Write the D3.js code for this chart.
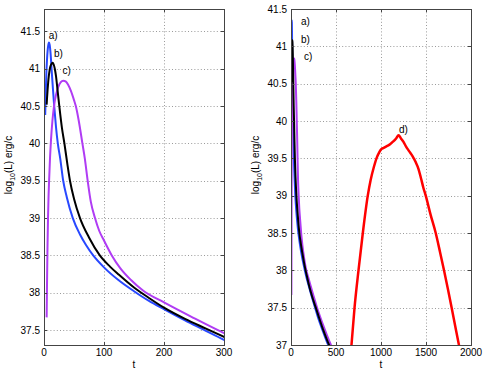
<!DOCTYPE html>
<meta charset="utf-8">
<style>
  body, html {
    margin: 0;
    padding: 0;
    background: #fff;
  }
  text {
    font: 10px "Liberation Sans", Arial, Helvetica, sans-serif;
    fill: #000;
  }
</style>
<body>
<svg id="chart" width="485" height="373"></svg>
<script src="https://d3js.org/d3.v7.min.js"></script>
<script>

// curve a) blue
var tA = [2, 3, 4, 5, 6, 7, 8.3, 9.5, 11, 13, 15, 17, 20, 23, 27, 32, 38, 48, 60, 70, 82, 100, 124, 150, 175, 200, 235, 265, 300, 350, 400, 430];
var vA = [40.38, 40.7, 40.95, 41.12, 41.24, 41.31, 41.35, 41.32, 41.2, 40.95, 40.72, 40.5, 40.22, 40.0, 39.8, 39.5, 39.28, 39.0, 38.78, 38.64, 38.5, 38.34, 38.17, 38.02, 37.89, 37.78, 37.63, 37.51, 37.37, 37.2, 37.04, 36.95];

// curve b) black
var tB = [4.4, 5, 6, 7, 8, 9, 10, 11.5, 13, 14.4, 16, 18, 20, 22.5, 25.5, 30, 34, 39, 43.3, 50, 60, 75, 93, 110, 125, 150, 175, 200, 235, 270, 300, 350, 400, 445];
var vB = [40.52, 40.6, 40.72, 40.82, 40.9, 40.96, 41.01, 41.05, 41.07, 41.08, 41.06, 41.0, 40.9, 40.72, 40.5, 40.2, 40.0, 39.72, 39.5, 39.26, 39.0, 38.74, 38.5, 38.35, 38.24, 38.07, 37.93, 37.8, 37.65, 37.52, 37.41, 37.23, 37.07, 36.94];

// curve c) purple
var tC = [4.4, 5, 5.8, 6.7, 7.6, 8.5, 10, 11.7, 14, 16.7, 20, 24, 28, 32, 36, 40, 45, 50, 53, 58, 64, 68, 72.8, 78, 85, 92, 100, 113, 127, 145, 165, 200, 250, 300, 350, 400, 465];
var vC = [37.67, 38.1, 38.6, 39.0, 39.3, 39.5, 39.8, 40.05, 40.3, 40.5, 40.65, 40.76, 40.82, 40.84, 40.83, 40.79, 40.7, 40.58, 40.5, 40.3, 40.0, 39.8, 39.5, 39.22, 39.0, 38.83, 38.7, 38.5, 38.33, 38.17, 38.03, 37.87, 37.66, 37.46, 37.29, 37.13, 36.94];

// curve d) red (right panel only)
var tD = [660, 672, 706, 750, 798, 853, 885, 920, 950, 980, 1001, 1030, 1060, 1090, 1111, 1140, 1170, 1195, 1220, 1250, 1277, 1310, 1350, 1385, 1416, 1445, 1470, 1497, 1550, 1608, 1655, 1700, 1745, 1785, 1825, 1866, 1880];
var vD = [36.8, 37.0, 37.5, 38.0, 38.5, 39.0, 39.21, 39.38, 39.5, 39.58, 39.62, 39.64, 39.66, 39.68, 39.70, 39.73, 39.77, 39.81, 39.77, 39.72, 39.66, 39.6, 39.53, 39.45, 39.36, 39.23, 39.11, 39.0, 38.75, 38.5, 38.25, 38.0, 37.74, 37.5, 37.25, 37.0, 36.92];

// tick values
var leftXTicks = [0, 100, 200, 300];
var leftYTicks = [37.5, 38, 38.5, 39, 39.5, 40, 40.5, 41, 41.5];
var rightXTicks = [0, 500, 1000, 1500, 2000];
var rightYTicks = [37, 37.5, 38, 38.5, 39, 39.5, 40, 40.5, 41, 41.5];

// annotation labels
var leftLabels = ["a)", "b)", "c)"];
var leftLabelT = [8, 16.7, 31];
var leftLabelV = [41.45, 41.2, 40.98];
var rightLabels = ["a)", "b)", "c)", "d)"];
var rightLabelT = [111, 111, 144, 1200];
var rightLabelV = [41.33, 41.09, 40.87, 39.89];

var colors = {a: "#2848ff", b: "#000000", c: "#b03cf4", d: "#ff0000"};

function zip(t, v) {
    return t.map(function(d, i) { return [d, v[i]]; });
}

var svg = d3.select("#chart");

svg.append("rect").attr("width", 485).attr("height", 373).attr("fill", "#fff");

function drawPanel(cfg) {
    var x = d3.scaleLinear().domain(cfg.xDomain).range(cfg.xRange);
    var y = d3.scaleLinear().domain(cfg.yDomain).range(cfg.yRange);
    var g = svg.append("g");

    var x0 = cfg.xRange[0], x1 = cfg.xRange[1], y0 = cfg.yRange[1], y1 = cfg.yRange[0];

    // dotted grid
    g.selectAll(".gx").data(cfg.xTicks.slice(1, -1)).enter().append("line")
        .attr("x1", function(d) { return Math.round(x(d)) + 0.5; })
        .attr("x2", function(d) { return Math.round(x(d)) + 0.5; })
        .attr("y1", y0).attr("y2", y1)
        .attr("stroke", "#9a9a9a").attr("stroke-dasharray", "1,2.2");
    g.selectAll(".gy").data(cfg.yTicks).enter().append("line")
        .attr("y1", function(d) { return Math.round(y(d)) + 0.5; })
        .attr("y2", function(d) { return Math.round(y(d)) + 0.5; })
        .attr("x1", x0).attr("x2", x1)
        .attr("stroke", "#9a9a9a").attr("stroke-dasharray", "1,2.2");

    var clipId = "clip" + cfg.id;
    svg.append("clipPath").attr("id", clipId).append("rect")
        .attr("x", x0).attr("y", y0).attr("width", x1 - x0).attr("height", y1 - y0);

    var line = d3.line()
        .x(function(d) { return x(d[0]); })
        .y(function(d) { return y(d[1]); })
        .curve(d3.curveMonotoneX);

    var lines = g.append("g").attr("clip-path", "url(#" + clipId + ")");
    cfg.series.forEach(function(s) {
        lines.append("path")
            .datum(s.data)
            .attr("fill", "none")
            .attr("stroke", s.color)
            .attr("stroke-width", s.width)
            .attr("stroke-linejoin", "round")
            .attr("d", line);
    });

    // box
    g.append("rect")
        .attr("x", x0 + 0.5).attr("y", y0 + 0.5)
        .attr("width", x1 - x0).attr("height", y1 - y0)
        .attr("fill", "none").attr("stroke", "#444");

    // inward ticks
    g.selectAll(".tx").data(cfg.xTicks).enter().append("path")
        .attr("d", function(d) {
            var px = Math.round(x(d)) + 0.5;
            return "M" + px + "," + y1 + "v-3M" + px + "," + y0 + "v3";
        })
        .attr("stroke", "#444");
    g.selectAll(".ty").data(cfg.yTicks).enter().append("path")
        .attr("d", function(d) {
            var py = Math.round(y(d)) + 0.5;
            return "M" + x0 + "," + py + "h3M" + x1 + "," + py + "h-3";
        })
        .attr("stroke", "#444");

    g.selectAll(".lx").data(cfg.xTicks).enter().append("text")
        .attr("x", function(d) { return x(d); })
        .attr("y", y1 + 11)
        .attr("text-anchor", "middle")
        .text(function(d) { return d; });
    g.selectAll(".ly").data(cfg.yTicks).enter().append("text")
        .attr("x", x0 - 4)
        .attr("y", function(d) { return y(d) + 3.5; })
        .attr("text-anchor", "end")
        .text(function(d) { return d; });

    // axis labels
    g.append("text")
        .attr("x", (x0 + x1) / 2)
        .attr("y", y1 + 23)
        .attr("text-anchor", "middle")
        .text("t");

    var yl = g.append("text")
        .attr("transform", "translate(" + cfg.yLabelX + ",165) rotate(-90)")
        .attr("text-anchor", "middle");
    yl.append("tspan").text("log");
    yl.append("tspan").attr("font-size", "7px").attr("dy", 3).text("10");
    yl.append("tspan").attr("dy", -3).text("(L) erg/c");

    // curve annotations
    g.selectAll(".ann").data(cfg.labels).enter().append("text")
        .attr("x", function(d) { return x(d.t); })
        .attr("y", function(d) { return y(d.v) + 3.5; })
        .text(function(d) { return d.text; });
}

drawPanel({
    id: "L",
    xDomain: [0, 300], xRange: [44, 224],
    yDomain: [37.3, 41.8], yRange: [345, 9],
    xTicks: leftXTicks, yTicks: leftYTicks,
    yLabelX: 12,
    series: [
        {data: zip(tA, vA), color: colors.a, width: 2},
        {data: zip(tC, vC), color: colors.c, width: 2},
        {data: zip(tB, vB), color: colors.b, width: 2}
    ],
    labels: leftLabels.map(function(d, i) { return {text: d, t: leftLabelT[i], v: leftLabelV[i]}; })
});

drawPanel({
    id: "R",
    xDomain: [0, 2000], xRange: [291, 471],
    yDomain: [37, 41.5], yRange: [345, 9],
    xTicks: rightXTicks, yTicks: rightYTicks,
    yLabelX: 259,
    series: [
        {data: zip(tA, vA), color: colors.a, width: 2},
        {data: zip(tC, vC), color: colors.c, width: 2},
        {data: zip(tB, vB), color: colors.b, width: 2},
        {data: zip(tD, vD), color: colors.d, width: 2.5}
    ],
    labels: rightLabels.map(function(d, i) { return {text: d, t: rightLabelT[i], v: rightLabelV[i]}; })
});

</script>
</body>
